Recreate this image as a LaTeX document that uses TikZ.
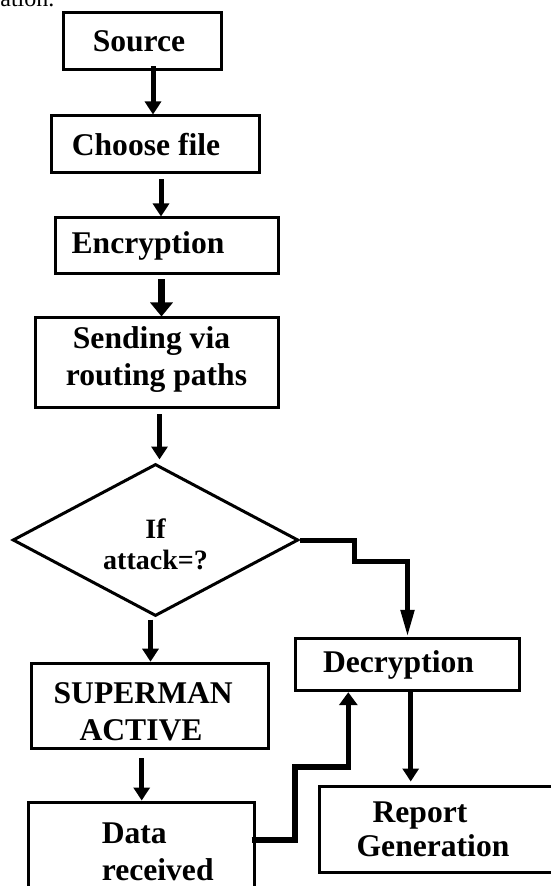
\documentclass[tikz,border=0pt]{standalone}
\usepackage{fontspec}
\setmainfont{Liberation Serif}
\usetikzlibrary{calc, positioning, shapes.geometric, arrows.meta}
% pad a line of text so that it sits off centre
\newcommand{\padR}[1]{\rule{#1}{0pt}}
\tikzset{
  block/.style={draw=black, line width=1.5pt, rectangle, inner sep=0pt, align=center,
                font=\fontsize{15.8}{18.5}\selectfont\bfseries},
  decision/.style={draw=black, line width=1.5pt, diamond, inner sep=0pt,
                font=\fontsize{14}{15.5}\selectfont\bfseries},
  flow/.style={draw=black, line width=2.5pt, -{Triangle[width=8pt,length=6.5pt]}},
}
\begin{document}
\begin{tikzpicture}[x=0.5pt, y=-0.5pt]
  \useasboundingbox (0,0) rectangle (550,886);
  % cut line of the page text above
  \node[anchor=base west, inner sep=0pt, font=\fontsize{12}{14}\selectfont] (cut) at (0,7) {ation.};
  % left column
  \node[block, minimum width=79pt, minimum height=28.5pt] (src) at (142,41.5) {Source\padR{3pt}};
  \node[block, minimum width=104pt, minimum height=28.5pt] (choose) at (155,144.5) {Choose file\padR{9pt}};
  \node[block, minimum width=111.5pt, minimum height=28pt] (enc) at (166.5,246) {Encryption\padR{18.5pt}};
  \node[block, minimum width=121.5pt, minimum height=45pt] (send) at (156.5,363) {Sending via\padR{5pt}\\routing paths\rule[-7.4pt]{0pt}{7.4pt}};
  \node[decision, minimum width=142.8pt, minimum height=76pt] (attack) at (155.5,540)
       {\raisebox{-7.7pt}[0pt][0pt]{\begin{tabular}{@{}c@{}}If\\attack=?\end{tabular}}};
  \node[block, minimum width=118.7pt, minimum height=42.8pt] (sup) at (149.7,706) {\rule{0pt}{16pt}SUPERMAN\padR{6.5pt}\\ACTIVE\padR{8.7pt}};
  \node[block, minimum width=112.8pt, minimum height=50pt, align=left] (data) at (141.2,852) {\padR{16.5pt}Data\\\padR{16.5pt}received};
  % right column
  \node[block, minimum width=111.8pt, minimum height=26.2pt] (decr) at (407.5,664.5) {Decryption\padR{9pt}};
  \node[block, minimum width=130.5pt, minimum height=43.3pt,
        font=\fontsize{15.8}{16.7}\selectfont\bfseries] (report) at (449.5,829.3) {Report\padR{29.5pt}\\Generation\padR{16.5pt}};

  % connectors
  \coordinate (a1) at ($(src.south)+(11,-5)$);
  \draw[flow] (a1) -- (a1 |- choose.north);
  \coordinate (a2) at ($(choose.south)+(6,5)$);
  \draw[flow] (a2) -- (a2 |- enc.north);
  \coordinate (a3) at ($(enc.south)+(-5,4)$);
  \draw[flow, line width=3.5pt, -{Triangle[width=11pt,length=7pt]}] (a3) -- (a3 |- send.north);
  \coordinate (a4) at ($(send.south)+(3,5)$);
  \draw[flow] (a4) -- ($(a4 |- attack.north)+(0,-3)$);
  \coordinate (a5) at ($(attack.south)+(-5,2)$);
  \draw[flow] (a5) -- (a5 |- sup.north);
  \coordinate (a6) at ($(sup.south)+(-8,8)$);
  \draw[flow] (a6) -- (a6 |- data.north);
  \draw[flow, -{Triangle[width=6.5pt,length=13.5pt]}] (attack.east) -- ++(55,0) -- ++(0,21.7) -| (decr.north);
  \coordinate (a7) at ($(data.east)+(-4,-12)$);
  \draw[flow, line width=2.8pt, -{Triangle[width=9pt,length=6.5pt]}] (a7) -- ++(43.3,0) -- ++(0,-73.3) -| ($(decr.south)+(-59.2,0)$);
  \coordinate (a8) at ($(decr.south)+(3.2,0)$);
  \draw[flow] (a8) -- ($(a8 |- report.north)+(0,-3)$);
\end{tikzpicture}
\end{document}
